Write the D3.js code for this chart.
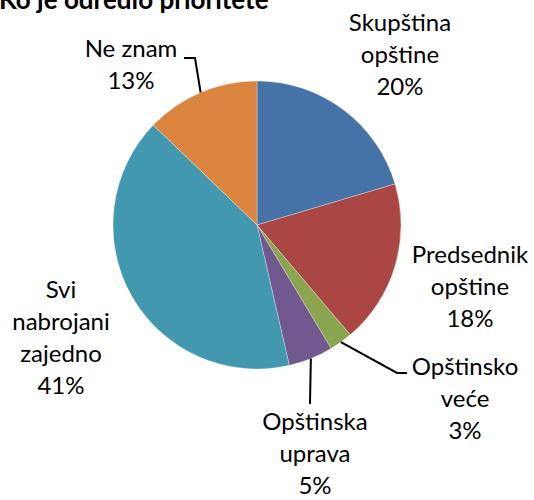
<!DOCTYPE html>
<html>
<head>
<meta charset="utf-8">
<script src="https://cdn.jsdelivr.net/npm/d3@7"></script>
<style>
  html, body { margin: 0; padding: 0; background: #fff; }
  svg { display: block; }
  text { font-family: Lato, "Noto Sans", sans-serif; fill: #000; }
</style>
</head>
<body>
<svg id="chart" width="534" height="500"></svg>
<script>
// ---- data ----
const title = "Ko je odredio prioritete";
const categories = ["Skupština opštine", "Predsednik opštine", "Opštinsko veće", "Opštinska uprava", "Svi nabrojani zajedno", "Ne znam"];
const labelLines = [["Skupština", "opštine"], ["Predsednik", "opštine"], ["Opštinsko", "veće"], ["Opštinska", "uprava"], ["Svi", "nabrojani", "zajedno"], ["Ne znam"]];
const values = [20.4, 18.4, 2.6, 5.0, 40.8, 12.8];
const colors = ["#4572A7", "#AA4643", "#89A54E", "#71588F", "#4198AF", "#DB843D"];

// ---- layout (positions only) ----
const cx = 257, cy = 225, R = 144;
const lineH = 32;
// label centre x and first baseline y
const labelPos = [
  {x: 400, y: 31},
  {x: 470, y: 263},
  {x: 465, y: 375},
  {x: 315, y: 430},
  {x: 61,  y: 298},
  {x: 131, y: 57}
];
// leader line bend points (after the start on the pie edge)
const leaders = [
  null,
  null,
  [[397, 373], [407, 373]],
  [[310, 404]],
  null,
  [[195, 58], [184, 58]]
];

const svg = d3.select("#chart");

svg.append("text")
  .attr("x", -1).attr("y", 9)
  .attr("font-size", 26).attr("font-weight", "bold")
  .text(title);

const pie = d3.pie().sort(null).value(d => d)(values);
const arc = d3.arc().innerRadius(0).outerRadius(R);

const g = svg.append("g").attr("transform", `translate(${cx},${cy})`);
g.selectAll("path").data(pie).join("path")
  .attr("d", arc)
  .attr("fill", (d, i) => colors[i])
  .attr("stroke", "#ffffff")
  .attr("stroke-opacity", 0.5)
  .attr("stroke-width", 0.6);

const total = d3.sum(values);
const fmt = v => Math.round(v / total * 100) + "%";

pie.forEach((d, i) => {
  if (leaders[i]) {
    const a = (d.startAngle + d.endAngle) / 2;
    const p0 = [cx + R * Math.sin(a), cy - R * Math.cos(a)];
    const pts = [p0].concat(leaders[i]);
    svg.append("path")
      .attr("d", d3.line()(pts))
      .attr("fill", "none")
      .attr("stroke", "#000")
      .attr("stroke-width", 2);
  }
  const lines = labelLines[i].concat([fmt(values[i])]);
  const t = svg.append("text")
    .attr("text-anchor", "middle")
    .attr("font-size", 24);
  lines.forEach((s, k) => {
    t.append("tspan")
      .attr("x", labelPos[i].x)
      .attr("y", labelPos[i].y + k * lineH)
      .text(s);
  });
});
</script>
</body>
</html>
